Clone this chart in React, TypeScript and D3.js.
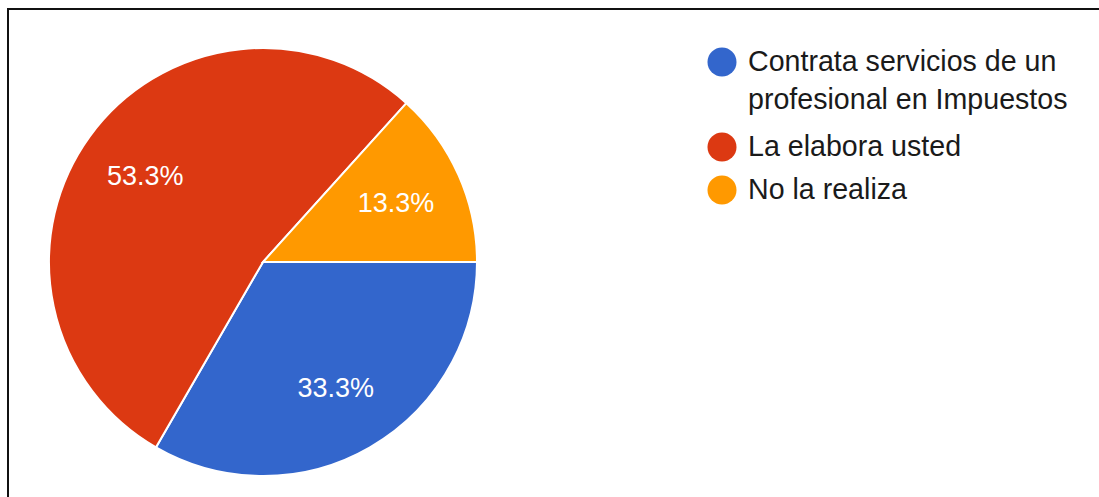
import React from "react";
import * as d3 from "d3";

const categories = [
  "Contrata servicios de un profesional en Impuestos",
  "La elabora usted",
  "No la realiza",
];
const values = [33.3, 53.3, 13.3];
const legendLines = [
  ["Contrata servicios de un", "profesional en Impuestos"],
  ["La elabora usted"],
  ["No la realiza"],
];
const colors = ["#3366cc", "#dc3912", "#ff9900"];

export default function App() {
  const W = 1099;
  const H = 497;
  const cx = 263;
  const cy = 262;
  const R = 214;
  const font = "'Liberation Sans', Arial, sans-serif";

  const pie = d3
    .pie<number>()
    .sort(null)
    .value((d) => d)
    .startAngle(Math.PI / 2)
    .endAngle(Math.PI / 2 + 2 * Math.PI);
  const arcs = pie(values);
  const arc = d3.arc<d3.PieArcDatum<number>>().innerRadius(0).outerRadius(R);
  const labelArc = d3
    .arc<d3.PieArcDatum<number>>()
    .innerRadius(R * 0.68)
    .outerRadius(R * 0.68);

  const legendY = [62, 147, 190];

  return (
    <svg
      width={W}
      height={H}
      style={{ position: "absolute", left: 0, top: 0, background: "#fff" }}
    >
      <rect x={0} y={0} width={W} height={H} fill="#fff" />
      {/* frame: top and left edges */}
      <line x1={8} y1={9} x2={W} y2={9} stroke="#111" strokeWidth={2} />
      <line x1={8} y1={8} x2={8} y2={H} stroke="#111" strokeWidth={2} />
      <g transform={`translate(${cx},${cy})`}>
        {arcs.map((a, i) => (
          <path key={i} d={arc(a) || ""} fill={colors[i]} stroke="#fff" strokeWidth={2} />
        ))}
        {arcs.map((a, i) => {
          const [x, y] = labelArc.centroid(a);
          return (
            <text
              key={i}
              x={x}
              y={y}
              textAnchor="middle"
              dominantBaseline="central"
              fill="#fff"
              fontFamily={font}
              fontSize={27}
            >
              {values[i].toFixed(1)}%
            </text>
          );
        })}
      </g>
      {categories.map((c, i) => (
        <g key={c}>
          <circle cx={722} cy={legendY[i]} r={14.5} fill={colors[i]} />
          {legendLines[i].map((line, j) => (
            <text
              key={j}
              x={748}
              y={legendY[i] + 9 + j * 38}
              fill="#1a1a1a"
              fontFamily={font}
              fontSize={28.6}
            >
              {line}
            </text>
          ))}
        </g>
      ))}
    </svg>
  );
}
